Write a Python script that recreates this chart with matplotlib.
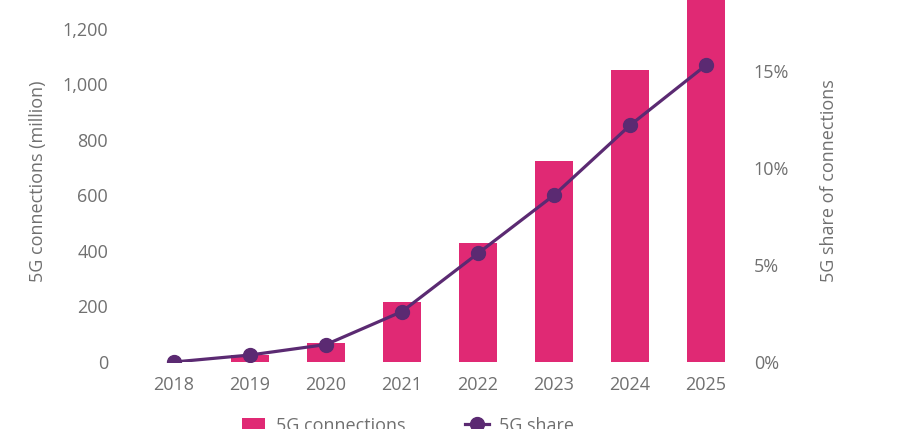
import matplotlib.pyplot as plt
from matplotlib.ticker import FuncFormatter

years = ["2018", "2019", "2020", "2021", "2022", "2023", "2024", "2025"]
connections = [0, 25, 68, 216, 429, 724, 1052, 1400]
share = [0.0, 0.36, 0.9, 2.6, 5.6, 8.6, 12.2, 15.3]

bar_color = "#E02974"
line_color = "#5B2A72"
text_color = "#707070"

plt.rcParams["font.family"] = ["Open Sans", "DejaVu Sans"]

fig = plt.figure(figsize=(8.97, 4.29), dpi=100)
ax = fig.add_axes([136 / 897, 67 / 429, 608 / 897, 362 / 429])
ax2 = ax.twinx()

x = list(range(len(years)))
ax.bar(x, connections, width=0.5, color=bar_color, label="5G connections", zorder=2)
ax2.plot(x, share, color=line_color, lw=2.3, marker="o", markersize=10,
         label="5G share", zorder=3)

ax.set_xlim(-0.5, 7.5)
ax.set_ylim(0, 1304)
ax2.set_ylim(0, 18.66)
ax.set_yticks(range(0, 1201, 200))
ax.yaxis.set_major_formatter(FuncFormatter(lambda v, p: f"{int(v):,}"))
ax2.set_yticks([0, 5, 10, 15])
ax2.yaxis.set_major_formatter(FuncFormatter(lambda v, p: f"{int(v)}%"))
ax.set_xticks(x)
ax.set_xticklabels(years)

for a in (ax, ax2):
    for s in a.spines.values():
        s.set_visible(False)
    a.tick_params(length=0, colors=text_color, labelsize=13)
ax.tick_params(axis="y", pad=20)
ax.tick_params(axis="x", pad=10)
ax2.tick_params(axis="y", pad=7)

ax.set_ylabel("5G connections (million)", color=text_color, fontsize=13, labelpad=11)
ax2.set_ylabel("5G share of connections", color=text_color, fontsize=13, labelpad=22)
ax2.patch.set_visible(False)

h1, l1 = ax.get_legend_handles_labels()
h2, l2 = ax2.get_legend_handles_labels()
fig.legend(h1 + h2, l1 + l2, loc="center", bbox_to_anchor=(0.455, 0.008), ncol=2,
           frameon=False, fontsize=13, labelcolor=text_color, columnspacing=3.3,
           handlelength=1.3, handletextpad=0.6)

fig.savefig("out.png", dpi=100)
